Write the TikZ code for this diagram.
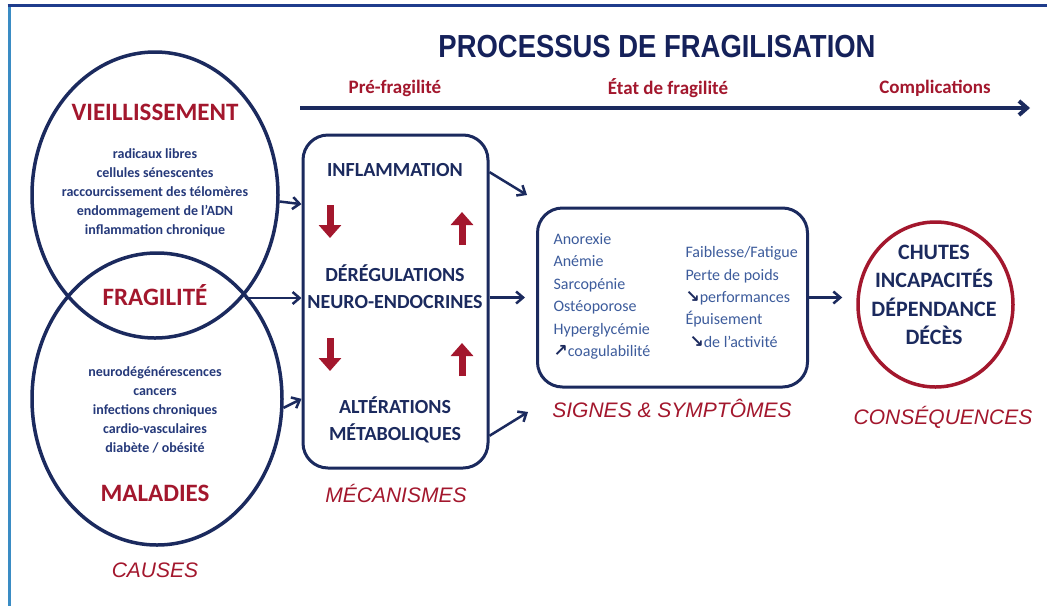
\documentclass[tikz,border=0pt]{standalone}
\usepackage{fontspec}
\setmainfont{Carlito}
\newfontfamily\arialf{Liberation Sans}
\newfontfamily\dejavu{DejaVu Sans}
\usetikzlibrary{arrows.meta,shapes.geometric}
\definecolor{navy}{HTML}{1B2A5E}
\definecolor{titlenavy}{HTML}{15215A}
\definecolor{dred}{HTML}{A3172D}
\definecolor{inblue}{HTML}{25397A}
\definecolor{sblue}{HTML}{3D5C9C}
\definecolor{frameblue}{HTML}{3A8CC4}
\definecolor{framenavy}{HTML}{1F3C8C}
\newcommand{\fs}[2]{\fontsize{#1}{#2}\selectfont}
\newcommand{\ua}{{\color{navy}\dejavu\bfseries\fs{17}{17}↗}}
\newcommand{\da}{{\color{navy}\dejavu\bfseries\fs{17}{17}↘}}
\begin{document}
\begin{tikzpicture}[x=1pt,y=-1pt,
 causecirc/.style={draw=navy, line width=3.5pt, ellipse, inner sep=0pt},
 bigred/.style={text=dred, font=\bfseries\fs{25}{30}},
 smalltxt/.style={text=inblue, font=\bfseries\fs{14}{19}, align=center},
 roundbox/.style={draw=navy, line width=3pt, rounded corners=25pt, inner sep=0pt},
 mechtxt/.style={text=navy, font=\bfseries\fs{20}{27}, align=center},
 signtxt/.style={text=sblue, font=\fs{16}{22.4}, align=left},
 conseqtxt/.style={text=navy, font=\bfseries\fs{22}{28.5}, align=center},
 italred/.style={text=dred, font=\arialf\itshape\fs{21}{25}},
 phase/.style={text=dred, font=\bfseries\fs{19}{22}},
 arr/.style={navy, line width=2.5pt, -{Straight Barb[length=7pt,width=12pt]}},
 redarr/.style={dred, line width=7pt, -{Triangle[length=13pt,width=22pt]}},
]
\useasboundingbox (0,0) rectangle (1047,606);
\fill[white] (0,0) rectangle (1047,606);
% frame
\draw[frameblue, line width=3pt] (9,5) -- (9,606);
\draw[framenavy, line width=3pt] (7.5,5) -- (1047,5);

% title and timeline
\node[text=titlenavy, font=\arialf\bfseries\fs{28}{32}] (title) at (657,47) {\scalebox{0.98}[1.14]{PROCESSUS DE FRAGILISATION}};
\coordinate (tl0) at (300,108);
\coordinate (tl1) at (1030,108);
\draw[navy, line width=4pt, -{Straight Barb[length=8pt,width=14pt]}] (tl0) -- (tl1);
\node[phase] (ph1) at (395,88) {Pré-fragilité};
\node[phase] (ph2) at (668,88) {État de fragilité};
\node[phase] (ph3) at (935,88) {Complications};

% causes
\node[causecirc, minimum width=246pt, minimum height=286pt] (vie) at (155,195) {};
\node[causecirc, minimum width=250pt, minimum height=292pt] (mal) at (157,399) {};
\node[bigred] (tvie) at (155,112) {VIEILLISSEMENT};
\node[smalltxt] (tvlist) at (155,193) {radicaux libres\\cellules sénescentes\\raccourcissement des télomères\\endommagement de l’ADN\\inflammation chronique};
\node[bigred, anchor=base] (tfrag) at (155,305) {FRAGILITÉ};
\node[smalltxt] (tmlist) at (155,410) {neurodégénérescences\\cancers\\infections chroniques\\cardio-vasculaires\\diabète / obésité};
\node[bigred] (tmal) at (155,493) {MALADIES};
\node[italred] (tcauses) at (155,570) {CAUSES};
\coordinate (isect) at (245,298);

% mechanisms
\node[roundbox, minimum width=185pt, minimum height=333pt] (mech) at (395.5,301.5) {};
\node[mechtxt] (m1) at (395,170) {INFLAMMATION};
\node[mechtxt] (m2) at (395,287) {DÉRÉGULATIONS\\NEURO-ENDOCRINES};
\node[mechtxt] (m3) at (395,420) {ALTÉRATIONS\\MÉTABOLIQUES};
\node[italred] (tmech) at (396,493) {MÉCANISMES};
\draw[redarr] (330,205) -- (330,238);
\draw[redarr] (462,245) -- (462,212);
\draw[redarr] (330,338) -- (330,371);
\draw[redarr] (462,376) -- (462,343);

% signs
\node[roundbox, minimum width=270pt, minimum height=179pt] (signs) at (672.5,297.5) {};
\node[signtxt, anchor=north west] (sl) at (550,230) {Anorexie\\Anémie\\Sarcopénie\\Ostéoporose\\Hyperglycémie\\\ua coagulabilité};
\node[signtxt, anchor=north west] (sr) at (682,243) {Faiblesse/Fatigue\\Perte de poids\\\da performances\\Épuisement\\\hspace{4pt}\da de l’activité};
\node[italred] (tsigns) at (672,408) {SIGNES \& SYMPTÔMES};

% consequences
\node[draw=dred, line width=3.5pt, ellipse, minimum width=155pt, minimum height=165pt, inner sep=0pt] (cons) at (935.5,304.5) {};
\node[conseqtxt] (tcons) at (934,295) {CHUTES\\INCAPACITÉS\\DÉPENDANCE\\DÉCÈS};
\node[italred] (tconsq) at (943,417) {CONSÉQUENCES};

% connectors
\coordinate (s1) at (527,195);
\coordinate (s3) at (528,412);
\draw[arr] (vie.-3) -- (mech.134.7);
\draw[arr] (isect) -- (mech.west |- isect);
\draw[arr] (mal.-4) -- (mech.226.8);
\draw[arr] (mech.54.5) -- (s1);
\draw[arr, shorten >=11pt] (mech.east |- signs.west) -- (signs.west);
\draw[arr] (mech.-55.7) -- (s3);
\draw[arr, shorten >=14pt] (signs.east) -- (cons.west |- signs.east);
\end{tikzpicture}
\end{document}
